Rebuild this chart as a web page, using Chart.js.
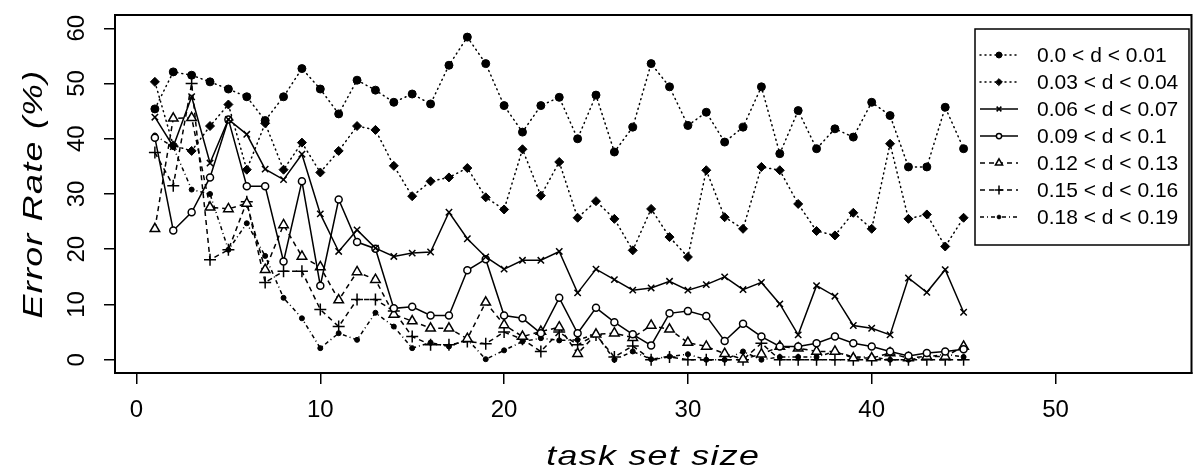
<!DOCTYPE html>
<html>
<head>
<meta charset="utf-8">
<script src="https://cdn.jsdelivr.net/npm/chart.js@4.4.1/dist/chart.umd.min.js"></script>
<style>
html,body{margin:0;padding:0;background:#fff;}
#wrap{width:1199px;height:466px;}
</style>
</head>
<body>
<div id="wrap"><canvas id="c" width="1199" height="466"></canvas></div>
<script>
// ---------- data ----------
const taskSizes = [1,2,3,4,5,6,7,8,9,10,11,12,13,14,15,16,17,18,19,20,21,22,23,24,25,26,27,28,29,30,31,32,33,34,35,36,37,38,39,40,41,42,43,44,45];
const xTickValues = [0,10,20,30,40,50];
const yTickValues = [0,10,20,30,40,50,60];
const seriesLabels = ['0.0 < d < 0.01','0.03 < d < 0.04','0.06 < d < 0.07','0.09 < d < 0.1','0.12 < d < 0.13','0.15 < d < 0.16','0.18 < d < 0.19'];
const xTitle = 'task set size';
const yTitle = 'Error Rate (%)';

const d000 = [45.4,52.1,51.5,50.3,49.0,47.6,43.3,47.6,52.7,49.0,44.5,50.6,48.8,46.6,48.1,46.3,53.3,58.4,53.6,46.0,41.2,46.0,47.5,40.0,47.9,37.6,42.1,53.6,49.4,42.4,44.8,39.4,42.1,49.4,37.3,45.1,38.2,41.8,40.3,46.6,44.2,34.9,34.9,45.7,38.2];
const d003 = [50.3,38.8,37.8,42.3,46.2,34.4,42.8,34.4,39.3,33.9,37.8,42.3,41.6,35.1,29.6,32.3,33.0,34.7,29.4,27.2,38.1,29.7,35.8,25.7,28.7,25.5,19.8,27.3,22.2,18.6,34.3,25.8,23.7,34.9,34.3,28.2,23.3,22.5,26.6,23.7,39.1,25.5,26.3,20.5,25.7];
const d006 = [43.9,38.6,47.6,35.6,43.5,40.8,34.5,32.6,37.2,26.4,19.6,23.5,20.2,18.7,19.3,19.5,26.7,21.9,18.6,16.4,18.0,18.0,19.6,12.1,16.4,14.5,12.6,13.0,14.2,12.6,13.6,15.0,12.7,14.0,10.1,4.5,13.4,11.5,6.2,5.7,4.5,14.8,12.2,16.3,8.6];
const d009 = [40.2,23.4,26.7,33.0,43.5,31.4,31.4,17.8,32.3,13.4,29.0,21.3,20.1,9.3,9.6,8.0,8.0,16.2,18.2,8.0,7.5,4.8,11.2,4.8,9.4,6.8,4.6,2.6,8.4,8.8,7.9,3.4,6.5,4.2,2.4,2.4,3.0,4.2,3.0,2.4,1.5,0.7,1.2,1.5,1.9];
const d012 = [23.7,43.7,43.8,27.6,27.3,28.3,16.3,24.4,18.7,16.8,10.8,15.9,14.5,8.2,7.0,5.7,5.7,3.8,10.4,6.3,4.2,5.1,5.9,1.1,4.6,4.8,4.0,6.2,5.5,3.1,2.4,1.1,0.1,1.0,2.4,2.1,1.5,1.5,0.3,0.3,1.2,0.3,0.6,0.6,2.4];
const d015 = [37.5,31.5,50.0,18.1,19.9,28.6,14.0,16.0,16.0,9.1,6.0,10.9,10.9,8.8,4.2,2.7,2.7,3.3,2.9,5.0,3.7,1.5,5.0,2.7,4.5,0.5,2.5,0.0,0.5,0.0,0.0,0.0,0.0,3.0,0.0,0.0,0.0,0.0,0.0,0.0,0.0,0.0,0.0,0.0,0.0];
const d018 = [40.6,38.5,30.8,30.0,19.9,24.7,18.8,11.2,7.5,2.1,4.8,3.6,8.5,6.0,2.1,3.1,2.4,3.7,0.1,1.7,3.3,3.9,3.5,3.6,4.6,0.0,1.5,0.1,0.6,1.0,0.0,0.0,1.5,0.0,0.5,0.5,0.5,1.5,0.5,0.5,0.0,0.0,0.5,1.0,0.5];

// ---------- styles ----------
const FONT = '"Liberation Sans", Arial, sans-serif';
const allValues = [d000,d003,d006,d009,d012,d015,d018];
const styles = [
  {dash:[1,4], cap:'round', pt:'circle', r:4, fill:'#000', bw:1},
  {dash:[1,4], cap:'round', pt:'rectRot', r:4.5, fill:'#000', bw:1},
  {dash:[], cap:'butt', pt:'crossRot', r:4.5, fill:'#000', bw:1.5},
  {dash:[], cap:'butt', pt:'circle', r:3.5, fill:'#fff', bw:1.5},
  {dash:[5,4], cap:'butt', pt:'triangle', r:5.5, fill:'#fff', bw:1.5},
  {dash:[5,4], cap:'butt', pt:'cross', r:6, fill:'#000', bw:1.5},
  {dash:[4,3,1,3], cap:'butt', pt:'circle', r:2.5, fill:'#000', bw:1}
];

const datasets = allValues.map((vals, i) => ({
  label: seriesLabels[i],
  data: taskSizes.map((x, k) => ({x: x, y: vals[k]})),
  borderColor: '#000',
  backgroundColor: styles[i].fill,
  borderWidth: 1.5,
  borderDash: styles[i].dash,
  borderCapStyle: styles[i].cap,
  pointStyle: styles[i].pt,
  pointRadius: styles[i].r,
  pointBorderWidth: styles[i].bw,
  pointBorderColor: '#000',
  pointBackgroundColor: styles[i].fill,
  tension: 0,
  fill: false
}));

const decorPlugin = {
  id: 'decor',
  afterDraw(chart) {
    const ctx = chart.ctx;
    const a = chart.chartArea;
    const ys = chart.scales.y;
    ctx.save();
    // box
    ctx.strokeStyle = '#000';
    ctx.lineWidth = 2;
    ctx.setLineDash([]);
    ctx.strokeRect(a.left, a.top, a.right - a.left, a.bottom - a.top);

    // rotated y tick labels
    ctx.fillStyle = '#000';
    ctx.font = '24px ' + FONT;
    ctx.textAlign = 'center';
    ctx.textBaseline = 'alphabetic';
    yTickValues.forEach(v => {
      const py = ys.getPixelForValue(v);
      ctx.save();
      ctx.translate(84, py);
      ctx.rotate(-Math.PI / 2);
      ctx.fillText(String(v), 0, 0);
      ctx.restore();
    });

    // axis titles
    ctx.font = 'italic 28px ' + FONT;
    try { ctx.letterSpacing = '1px'; } catch (e) {}
    ctx.save();
    ctx.translate((a.left + a.right) / 2, 465);
    ctx.scale(1.28, 1);
    ctx.fillText(xTitle, 0, 0);
    ctx.restore();
    ctx.save();
    ctx.translate(42, (a.top + a.bottom) / 2);
    ctx.rotate(-Math.PI / 2);
    ctx.scale(1.28, 1);
    ctx.fillText(yTitle, 0, 0);
    ctx.restore();
    try { ctx.letterSpacing = '0px'; } catch (e) {}

    // legend
    const L = {left: 975, top: 29, right: 1189, bottom: 245};
    ctx.fillStyle = '#fff';
    ctx.fillRect(L.left, L.top, L.right - L.left, L.bottom - L.top);
    ctx.strokeStyle = '#000';
    ctx.lineWidth = 1.5;
    ctx.strokeRect(L.left, L.top, L.right - L.left, L.bottom - L.top);
    chart.data.datasets.forEach((ds, i) => {
      const y = 55 + i * 27;
      ctx.save();
      ctx.strokeStyle = '#000';
      ctx.lineWidth = 1.5;
      ctx.setLineDash(ds.borderDash);
      ctx.lineCap = ds.borderCapStyle;
      ctx.beginPath();
      ctx.moveTo(980, y);
      ctx.lineTo(1018, y);
      ctx.stroke();
      ctx.setLineDash([]);
      ctx.fillStyle = ds.pointBackgroundColor;
      ctx.strokeStyle = '#000';
      ctx.lineWidth = ds.pointBorderWidth;
      Chart.helpers.drawPoint(ctx, {pointStyle: ds.pointStyle, radius: ds.pointRadius * 0.75, rotation: 0, borderWidth: ds.pointBorderWidth}, 999, y);
      ctx.restore();
      ctx.fillStyle = '#000';
      ctx.font = '21px ' + FONT;
      ctx.textAlign = 'left';
      ctx.textBaseline = 'middle';
      ctx.fillText(ds.label, 1037, y + 1);
    });
    ctx.restore();
  }
};

new Chart(document.getElementById('c'), {
  type: 'line',
  data: {datasets: datasets},
  options: {
    responsive: false,
    animation: false,
    devicePixelRatio: 1,
    layout: {padding: {left: 0, right: 3, top: 15, bottom: 0}},
    plugins: {legend: {display: false}, tooltip: {enabled: false}},
    scales: {
      x: {
        type: 'linear',
        min: -1.17,
        max: 57.4,
        afterBuildTicks: s => { s.ticks = xTickValues.map(v => ({value: v})); },
        afterFit: s => { s.height = 93; },
        grid: {drawOnChartArea: false, drawTicks: true, tickLength: 11, color: '#000', lineWidth: 1.5},
        border: {display: true, color: '#000', width: 2},
        ticks: {font: {family: FONT, size: 24}, color: '#000', padding: 12, maxRotation: 0, autoSkip: false}
      },
      y: {
        type: 'linear',
        min: -2.4,
        max: 62.4,
        afterBuildTicks: s => { s.ticks = yTickValues.map(v => ({value: v})); },
        afterFit: s => { s.width = 115; },
        grid: {drawOnChartArea: false, drawTicks: true, tickLength: 11, color: '#000', lineWidth: 1.5},
        border: {display: true, color: '#000', width: 2},
        ticks: {callback: () => '', font: {size: 1}}
      }
    }
  },
  plugins: [decorPlugin]
});
</script>
</body>
</html>
